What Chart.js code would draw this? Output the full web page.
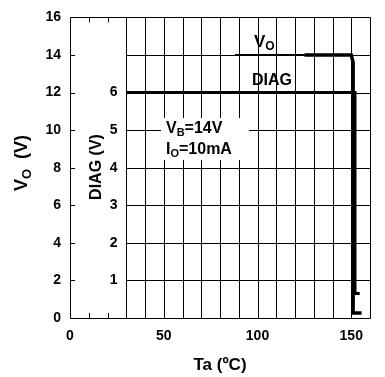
<!DOCTYPE html>
<html>
<head>
<meta charset="utf-8">
<script src="https://cdn.jsdelivr.net/npm/chart.js@4"></script>
<style>
  html, body { margin: 0; padding: 0; background: #fff; }
  #wrap { width: 385px; height: 377px; }
</style>
</head>
<body>
<div id="wrap"><canvas id="chart"></canvas></div>
<script>
'use strict';

// Data
let voTemp = [88, 125, 150, 151, 151, 155.5];
let voValues = [14, 14, 14, 13.6, 0.27, 0.27];
let diagTemp = [30, 152, 152, 154.5];
let diagValues = [6, 6, 0.65, 0.65];

// Ticks
let tempTicks = [0, 50, 100, 150];
let voTicks = [0, 2, 4, 6, 8, 10, 12, 14, 16];
let diagTicks = [1, 2, 3, 4, 5, 6];
let gridTemps = [30, 40, 50, 60, 70, 80, 90, 100, 110, 120, 130, 140, 150];
let smallTemps = [10, 20];
let gridVo = [2, 4, 6, 8, 10, 12, 14];

const FONT = "'Liberation Sans', Arial, sans-serif";

function setTicks(values) {
  return function (scale) {
    scale.ticks = values.map(v => ({ value: v }));
  };
}

// draws "V" + subscript + rest at x,y (left, baseline)
function subText(c, x, y, main, sub, rest, size) {
  c.font = `bold ${size}px ${FONT}`;
  c.fillText(main, x, y);
  x += c.measureText(main).width;
  c.font = `bold ${Math.round(size * 0.7)}px ${FONT}`;
  c.fillText(sub, x, y + size * 0.2);
  x += c.measureText(sub).width;
  c.font = `bold ${size}px ${FONT}`;
  c.fillText(rest, x, y);
}

function subWidth(c, main, sub, rest, size) {
  c.font = `bold ${size}px ${FONT}`;
  let w = c.measureText(main + rest).width;
  c.font = `bold ${Math.round(size * 0.7)}px ${FONT}`;
  return w + c.measureText(sub).width;
}

let gridPlugin = {
  id: 'gridPlugin',
  beforeDatasetsDraw(chart) {
    let c = chart.ctx;
    let xs = chart.scales.x;
    let ys = chart.scales.y;
    let a = chart.chartArea;
    c.save();
    c.strokeStyle = '#000';
    c.lineWidth = 1;
    c.beginPath();
    gridTemps.forEach(t => {
      let px = Math.round(xs.getPixelForValue(t)) + 0.5;
      c.moveTo(px, a.top);
      c.lineTo(px, a.bottom);
    });
    smallTemps.forEach(t => {
      let px = Math.round(xs.getPixelForValue(t)) + 0.5;
      c.moveTo(px, a.bottom);
      c.lineTo(px, a.bottom - 5);
      c.moveTo(px, a.top);
      c.lineTo(px, a.top + 5);
    });
    gridVo.forEach(v => {
      let py = Math.round(ys.getPixelForValue(v)) + 0.5;
      c.moveTo(xs.getPixelForValue(30), py);
      c.lineTo(a.right, py);
      c.moveTo(a.left, py);
      c.lineTo(a.left + 5, py);
    });
    c.rect(Math.round(a.left) + 0.5, Math.round(a.top) + 0.5, Math.round(a.width), Math.round(a.height));
    c.stroke();

    // white box behind the test condition text
    c.fillStyle = '#fff';
    c.fillRect(161, 118, 88, 42);
    c.restore();
  },
  afterDatasetsDraw(chart) {
    let c = chart.ctx;
    c.save();
    c.fillStyle = '#000';
    c.textAlign = 'left';
    c.textBaseline = 'alphabetic';

    subText(c, 166, 133, 'V', 'B', '=14V', 16);
    subText(c, 166, 154, 'I', 'O', '=10mA', 16);
    subText(c, 254, 47, 'V', 'O', '', 17);
    c.font = `bold 16px ${FONT}`;
    c.fillText('DIAG', 252, 85);

    // Vo axis title
    c.translate(27, 163);
    c.rotate(-Math.PI / 2);
    let w = subWidth(c, 'V', 'O', '  (V)', 18);
    subText(c, -w / 2, 0, 'V', 'O', '  (V)', 18);
    c.restore();

    // DIAG axis title
    c.save();
    c.fillStyle = '#000';
    c.translate(101, 167);
    c.rotate(-Math.PI / 2);
    c.font = `bold 16px ${FONT}`;
    c.textAlign = 'center';
    c.fillText('DIAG (V)', 0, 0);
    c.restore();
  }
};

let tickFont = { family: FONT, size: 14, weight: 'bold' };

new Chart(document.getElementById('chart'), {
  type: 'line',
  data: {
    datasets: [{
      label: 'VO',
      data: voTemp.map((t, i) => ({ x: t, y: voValues[i] })),
      borderColor: '#000',
      borderWidth: 3.5,
      pointRadius: 0,
      yAxisID: 'y',
      segment: {
        borderWidth: ctx => ctx.p0DataIndex === 0 ? 2 : 3.5
      }
    },
    {
      label: 'DIAG',
      data: diagTemp.map((t, i) => ({ x: t, y: diagValues[i] })),
      borderColor: '#000',
      borderWidth: 3,
      pointRadius: 0,
      yAxisID: 'yDiag'
    }]
  },
  options: {
    responsive: true,
    maintainAspectRatio: false,
    animation: false,
    devicePixelRatio: 1,
    layout: { padding: { top: 17, right: 15, left: 0, bottom: 0 } },
    plugins: {
      legend: { display: false },
      tooltip: { enabled: false }
    },
    scales: {
      x: {
        type: 'linear',
        min: 0,
        max: 160,
        afterBuildTicks: setTicks(tempTicks),
        afterFit(scale) { scale.height = 59; },
        grid: { display: false, drawTicks: false },
        border: { display: false },
        ticks: { font: tickFont, color: '#000', padding: 10, maxRotation: 0 },
        title: {
          display: true,
          text: 'Ta (ºC)',
          color: '#000',
          font: { family: FONT, size: 17, weight: 'bold' },
          padding: { top: 0, bottom: 1 }
        }
      },
      y: {
        position: 'left',
        min: 0,
        max: 16,
        afterBuildTicks: setTicks(voTicks),
        afterFit(scale) { scale.width = 70; },
        grid: { display: false, drawTicks: false },
        border: { display: false },
        ticks: { font: tickFont, color: '#000', padding: 9 }
      },
      yDiag: {
        // labels sit just left of the 30 ºC grid line
        position: { x: 25.3 },
        min: 0,
        max: 8,
        afterBuildTicks: setTicks(diagTicks),
        afterFit(scale) { scale.width = 20; },
        grid: { display: false, drawTicks: false },
        border: { display: false },
        ticks: { font: tickFont, color: '#000', padding: 0 }
      }
    }
  },
  plugins: [gridPlugin]
});
</script>
</body>
</html>
